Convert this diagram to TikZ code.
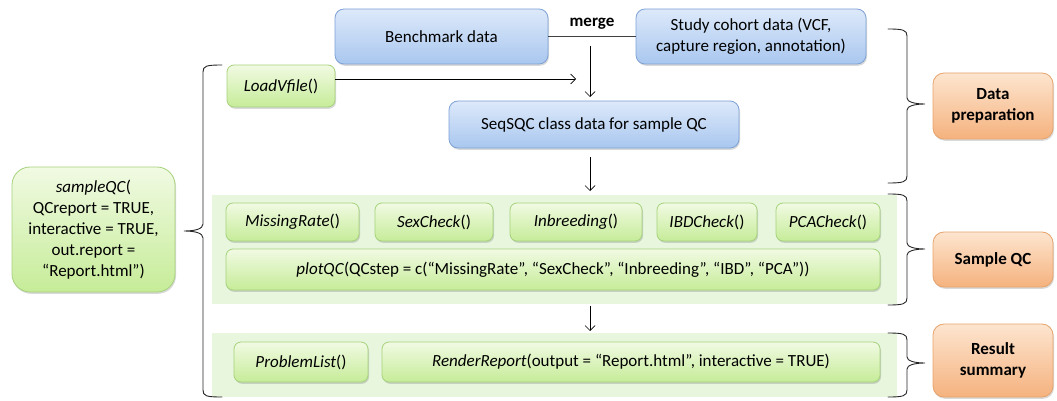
\documentclass[tikz,border=0pt]{standalone}
\usepackage{fontspec}
\setmainfont{Carlito}
\usetikzlibrary{arrows.meta,shadows}
\definecolor{bluetop}{HTML}{DDE9FA}
\definecolor{bluebot}{HTML}{A9C7EF}
\definecolor{blueborder}{HTML}{7EA2D6}
\definecolor{greentop}{HTML}{F1FAE3}
\definecolor{greenbot}{HTML}{C6EC98}
\definecolor{greenborder}{HTML}{A6D27C}
\definecolor{orangetop}{HTML}{FDE5CF}
\definecolor{orangebot}{HTML}{F5B27E}
\definecolor{orangeborder}{HTML}{E6A36C}
\definecolor{panelfill}{HTML}{E7F6DD}
\newcommand\RBrace[3]{%
  \draw[brace] (888,#1) .. controls (903,#1) and (907,#1+1) .. (907,#1+7)
    -- (907,#2-6) .. controls (907,#2-2) and (915,#2) .. (925,#2)
    .. controls (915,#2) and (907,#2+2) .. (907,#2+6)
    -- (907,#3-7) .. controls (907,#3-1) and (903,#3) .. (888,#3);}
\begin{document}
\begin{tikzpicture}[x=1pt,y=-1pt,
  font=\fontsize{17}{21}\selectfont,
  base/.style={draw, line width=0.8pt, align=center, inner sep=0pt,
    drop shadow={shadow xshift=1pt, shadow yshift=-1.8pt, opacity=0.25, fill=black!60}},
  bluebox/.style={base, rounded corners=9pt, draw=blueborder, top color=bluetop, bottom color=bluebot},
  greenbox/.style={base, rounded corners=7pt, draw=greenborder, top color=greentop, bottom color=greenbot},
  orangebox/.style={base, rounded corners=11pt, draw=orangeborder, top color=orangetop, bottom color=orangebot, font=\fontsize{17}{21}\selectfont\bfseries},
  panel/.style={fill=panelfill, draw=none, inner sep=0pt},
  arr/.style={-{Straight Barb[length=5pt,width=10pt]}, line width=0.7pt, black},
  brace/.style={line width=0.9pt, black!85, line cap=round}]
\useasboundingbox (0,0) rectangle (1057,401);

% panels
\node[panel, minimum width=685pt, minimum height=109pt] (p1) at (554.5,249.5) {};
\node[panel, minimum width=685pt, minimum height=64pt] (p2) at (554.5,365) {};

% data preparation
\node[bluebox, minimum width=213pt, minimum height=55pt] (bench) at (441.5,36.5) {Benchmark data};
\node[bluebox, minimum width=230pt, minimum height=55pt] (study) at (751,36.5) {Study cohort data (VCF,\\capture region, annotation)};
\node[greenbox, minimum width=108pt, minimum height=42pt] (load) at (281,86) {\textit{LoadVfile}()};
\node[bluebox, minimum width=290pt, minimum height=47pt] (seq) at (594,124.5) {SeqSQC class data for sample QC};

% sampleQC
\node[greenbox, rounded corners=18pt, minimum width=163pt, minimum height=125pt] (sqc) at (93.5,229.5)
  {\textit{sampleQC}(\\QCreport = TRUE,\\interactive = TRUE,\\out.report =\\“Report.html”)};

% sample QC
\node[greenbox, minimum width=133pt, minimum height=38pt] (miss) at (292.5,222) {\textit{MissingRate}()};
\node[greenbox, minimum width=118pt, minimum height=38pt] (sex) at (434,222) {\textit{SexCheck}()};
\node[greenbox, minimum width=132pt, minimum height=38pt] (inb) at (576,222) {\textit{Inbreeding}()};
\node[greenbox, minimum width=100pt, minimum height=38pt] (ibd) at (707,222) {\textit{IBDCheck}()};
\node[greenbox, minimum width=104pt, minimum height=38pt] (pca) at (828,222) {\textit{PCACheck}()};
\node[greenbox, minimum width=654pt, minimum height=41pt] (plot) at (553,269.5)
  {\textit{plotQC}(QCstep = c(“MissingRate”, “SexCheck”, “Inbreeding”, “IBD”, “PCA”))};

% result summary
\node[greenbox, minimum width=134pt, minimum height=40pt] (prob) at (301,362) {\textit{ProblemList}()};
\node[greenbox, minimum width=498pt, minimum height=40pt] (render) at (631,362)
  {\textit{RenderReport}(output = “Report.html”, interactive = TRUE)};

% orange labels
\node[orangebox, minimum width=120pt, minimum height=66pt] (dp) at (993,106) {Data\\preparation};
\node[orangebox, minimum width=120pt, minimum height=55pt] (sq) at (993,259.5) {Sample QC};
\node[orangebox, minimum width=120pt, minimum height=73pt] (rs) at (993,360.5) {Result\\summary};

% connectors
\draw[line width=0.9pt, black!75] (bench.east) -- node[midway, above=3pt, black, font=\fontsize{17}{20}\selectfont\bfseries] {merge} (study.west);
\coordinate (m1) at (590,46);
\coordinate (m2) at (590,97);
\draw[arr] (m1) -- (m2);
\coordinate (lv) at (576,79);
\draw[arr] ([yshift=7pt]load.east) -- (lv);
\coordinate (a1) at (590,157);
\coordinate (a2) at (590,191);
\draw[arr] (a1) -- (a2);
\coordinate (a3) at (590,306);
\coordinate (a4) at (590,331);
\draw[arr] (a3) -- (a4);

% left brace
\draw[brace] (222,65) .. controls (206,65) and (203,66) .. (203,72) -- (203,224)
  .. controls (203,229) and (195,231) .. (184,231)
  .. controls (195,231) and (203,233) .. (203,238) -- (203,390)
  .. controls (203,396) and (206,397) .. (222,397);

% right braces
\RBrace{29}{104}{183}
\RBrace{194}{249}{305}
\RBrace{333}{363}{397}
\end{tikzpicture}
\end{document}
